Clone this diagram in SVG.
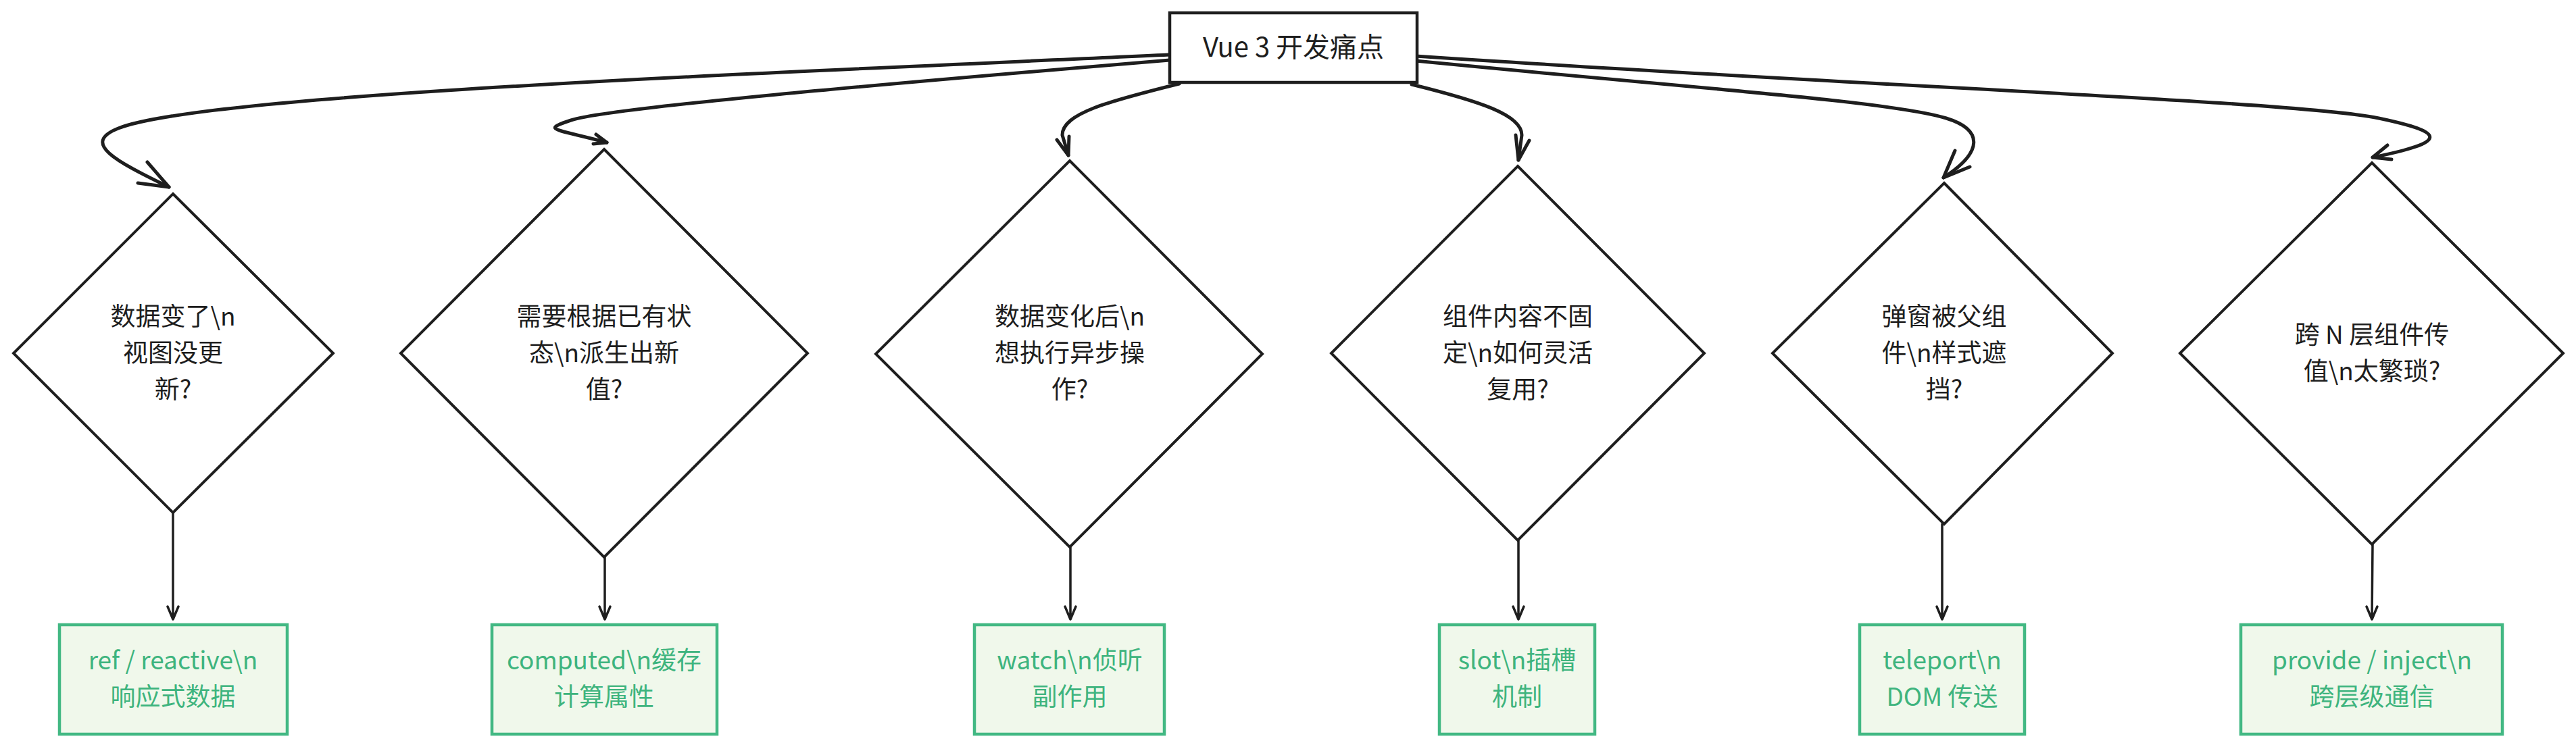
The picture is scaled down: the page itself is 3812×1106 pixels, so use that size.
<svg xmlns="http://www.w3.org/2000/svg" width="3812" height="1106" viewBox="0 0 3812 1106">
<style>
  .bg { fill: #ffffff; }
  .title { fill: #ffffff; stroke: #1e1e1e; stroke-width: 4.5; }
  .dia { fill: #ffffff; stroke: #1e1e1e; stroke-width: 4; stroke-linejoin: miter; }
  .sol { fill: #f0f8eb; stroke: #42b883; stroke-width: 4.5; }
  .t { font-family: "Noto Sans CJK SC", "Noto Sans", sans-serif; font-size: 37px; text-anchor: middle; fill: #1e1e1e; }
  .h { font-size: 40px; }
  .g { fill: #3eb47e; }
  .curve { fill: none; stroke: #1e1e1e; stroke-width: 5; stroke-linecap: round; stroke-linejoin: round; }
  .down { fill: none; stroke: #1e1e1e; stroke-width: 3.5; stroke-linecap: round; stroke-linejoin: round; }
</style>
<rect class="bg" x="0" y="0" width="3812" height="1106"/>

<g id="connectors">
  <!-- title to diamonds -->
  <path class="curve" d="M1731,81 C1100,110 300,140 175,190 C120,212 170,238 250,277"/>
  <path class="curve" d="M218,240 L250,277 L204,271"/>
  <path class="curve" d="M1731,89 C1300,125 900,160 845,178 C800,193 820,190 898,211"/>
  <path class="curve" d="M882,199 L898,211 L878,213"/>
  <path class="curve" d="M1745,124 C1640,150 1572,168 1572,200 L1581,230"/>
  <path class="curve" d="M1564,207 L1581,230 L1582,202"/>
  <path class="curve" d="M2089,125 C2190,150 2252,170 2252,200 L2247,237"/>
  <path class="curve" d="M2243,200 L2247,237 L2263,208"/>
  <path class="curve" d="M2095,90 C2500,130 2800,150 2880,175 C2935,192 2935,225 2876,263"/>
  <path class="curve" d="M2893,223 L2876,263 L2915,247"/>
  <path class="curve" d="M2095,83 C2800,130 3400,150 3520,175 C3620,196 3625,210 3511,233"/>
  <path class="curve" d="M3533,215 L3511,233 L3539,236"/>
  <!-- diamonds to solutions -->
  <path class="down" d="M256,759 L256,917 M248,898 L256,917 L264,898"/>
  <path class="down" d="M895,825 L895,917 M887,898 L895,917 L903,898"/>
  <path class="down" d="M1584,810 L1584,917 M1576,898 L1584,917 L1592,898"/>
  <path class="down" d="M2247,800 L2247,917 M2239,898 L2247,917 L2255,898"/>
  <path class="down" d="M2874,776 L2874,917 M2866,898 L2874,917 L2882,898"/>
  <path class="down" d="M3511,806 L3510,917 M3502,898 L3510,917 L3518,898"/>
</g>

<g id="root">
  <rect class="title" x="1731" y="19" width="366" height="103"/>
  <text class="t h" x="1914" y="84">Vue 3 开发痛点</text>
</g>

<g id="q1">
  <polygon class="dia" points="256,287 493,523 256,759 20,523"/>
  <text class="t" x="256" y="482"><tspan x="256">数据变了\n</tspan><tspan x="256" dy="54">视图没更</tspan><tspan x="256" dy="54">新?</tspan></text>
</g>
<g id="q2">
  <polygon class="dia" points="894,221 1195,523 894,825 593,523"/>
  <text class="t" x="894" y="482"><tspan x="894">需要根据已有状</tspan><tspan x="894" dy="54">态\n派生出新</tspan><tspan x="894" dy="54">值?</tspan></text>
</g>
<g id="q3">
  <polygon class="dia" points="1583,238 1868,524 1583,810 1296,524"/>
  <text class="t" x="1583" y="482"><tspan x="1583">数据变化后\n</tspan><tspan x="1583" dy="54">想执行异步操</tspan><tspan x="1583" dy="54">作?</tspan></text>
</g>
<g id="q4">
  <polygon class="dia" points="2246,246 2522,523 2246,800 1970,523"/>
  <text class="t" x="2246" y="482"><tspan x="2246">组件内容不固</tspan><tspan x="2246" dy="54">定\n如何灵活</tspan><tspan x="2246" dy="54">复用?</tspan></text>
</g>
<g id="q5">
  <polygon class="dia" points="2877,271 3126,523 2877,776 2623,523"/>
  <text class="t" x="2877" y="482"><tspan x="2877">弹窗被父组</tspan><tspan x="2877" dy="54">件\n样式遮</tspan><tspan x="2877" dy="54">挡?</tspan></text>
</g>
<g id="q6">
  <polygon class="dia" points="3510,241 3793,523 3510,806 3226,523"/>
  <text class="t" x="3510" y="509"><tspan x="3510">跨 N 层组件传</tspan><tspan x="3510" dy="54">值\n太繁琐?</tspan></text>
</g>

<g id="s1">
  <rect class="sol" x="88" y="925" width="337" height="162"/>
  <text class="t g" x="256" y="991"><tspan x="256">ref / reactive\n</tspan><tspan x="256" dy="54">响应式数据</tspan></text>
</g>
<g id="s2">
  <rect class="sol" x="728" y="925" width="333" height="162"/>
  <text class="t g" x="894" y="991"><tspan x="894">computed\n缓存</tspan><tspan x="894" dy="54">计算属性</tspan></text>
</g>
<g id="s3">
  <rect class="sol" x="1442" y="925" width="281" height="162"/>
  <text class="t g" x="1583" y="991"><tspan x="1583">watch\n侦听</tspan><tspan x="1583" dy="54">副作用</tspan></text>
</g>
<g id="s4">
  <rect class="sol" x="2130" y="925" width="230" height="162"/>
  <text class="t g" x="2245" y="991"><tspan x="2245">slot\n插槽</tspan><tspan x="2245" dy="54">机制</tspan></text>
</g>
<g id="s5">
  <rect class="sol" x="2752" y="925" width="244" height="162"/>
  <text class="t g" x="2874" y="991"><tspan x="2874">teleport\n</tspan><tspan x="2874" dy="54">DOM 传送</tspan></text>
</g>
<g id="s6">
  <rect class="sol" x="3316" y="925" width="387" height="162"/>
  <text class="t g" x="3510" y="991"><tspan x="3510">provide / inject\n</tspan><tspan x="3510" dy="54">跨层级通信</tspan></text>
</g>
</svg>
